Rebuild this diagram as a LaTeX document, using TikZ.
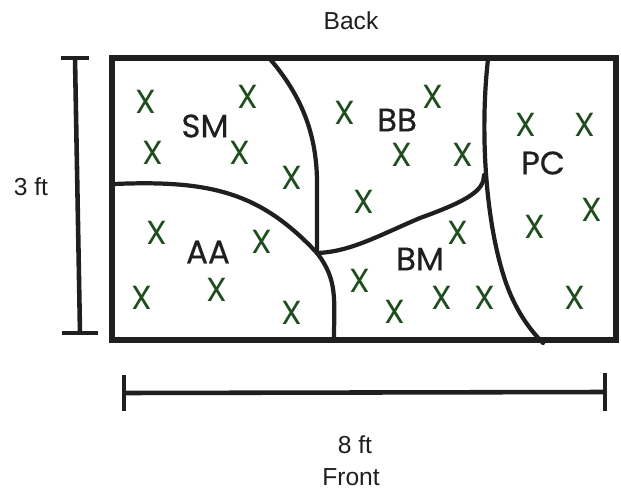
\documentclass[tikz,border=0pt]{standalone}
\usepackage{fontspec}
\setmainfont{Liberation Sans}
\newfontfamily\plotfont{Poppins}
\newfontfamily\areafont[FakeBold=0.4]{Poppins}
\definecolor{plantgreen}{HTML}{1E4D1E}
\definecolor{inkdark}{HTML}{1F1F1F}
\tikzset{bed/.style     = {draw=inkdark, line width=3.2pt},
	border/.style  = {draw=inkdark, line width=2.4pt, line cap=round},
	ruler/.style   = {draw=inkdark, line width=2.6pt},
	plant/.style   = {text=plantgreen, font=\plotfont\fontsize{19}{19}\selectfont, inner sep=0pt},
	area/.style    = {text=inkdark, font=\areafont\fontsize{18.5}{18.5}\selectfont, inner sep=0pt},
	dim/.style     = {text=inkdark, font=\fontsize{14}{14}\selectfont, inner sep=0pt}
}

\begin{document}
\begin{tikzpicture}[x=0.02cm, y=-0.02cm]
		\useasboundingbox (0,0) rectangle (621,489);
		% garden bed
		\draw [bed] (112,58) rectangle (616,340);
		\coordinate (jn) at (317,253);
		\coordinate (bmend) at (484,175);
		\draw [border] (270,59) .. controls (305,100) and (318,140) .. (317,190) -- (jn);
		\draw [border] (114,184) .. controls (210,180) and (260,192) .. (jn) .. controls (338,280) and (334,300) .. (334,339);
		\draw [border] (jn) .. controls (350,252) and (380,235) .. (420,218) .. controls (470,200) and (484,190) .. (bmend);
		\draw [border] (488,59) .. controls (480,130) and (485,220) .. (505,280) .. controls (515,310) and (530,330) .. (543,343);
		% areas
		\node [area] (sm) at (205,126) {SM};
		\node [area] (aa) at (208,252) {AA};
		\node [area] (bb) at (397,120) {BB};
		\node [area] (bm) at (420,259) {BM};
		\node [area] (pc) at (543,163) {PC};
		% plants
		\foreach \px/\py in {146/102, 248/97, 153/153, 240/153, 292/178,
			157/233, 262/242, 217/290, 142/298, 292/313,
			345/113, 433/97, 402/155, 463/155, 364/202,
			458/233, 360/281, 395/312, 442/298, 485/298,
			526/125, 585/125, 592/210, 535/227, 575/298}
			\node [plant] at (\px,\py) {X};
		% rulers
		\coordinate (vt) at (75,58);
		\coordinate (vb) at (80,333);
		\draw [ruler] (vt) -- (vb);
		\draw [ruler] ([xshift=-8]vt) -- ([xshift=8]vt);
		\draw [ruler] ([xshift=-10]vb) -- ([xshift=10]vb);
		\coordinate (hl) at (124,393);
		\coordinate (hr) at (605,392);
		\draw [ruler] (hl) -- (hr);
		\draw [ruler] ([yshift=-10]hl) -- ([yshift=10]hl);
		\draw [ruler] ([yshift=-11]hr) -- ([yshift=11]hr);
		% labels
		\node [dim] (back) at (351,21) {Back};
		\node [dim] (hgt) at (31,187) {3 ft};
		\node [dim] (wid) at (355,445) {8 ft};
		\node [dim] (front) at (351,477) {Front};
	\end{tikzpicture}
\end{document}
